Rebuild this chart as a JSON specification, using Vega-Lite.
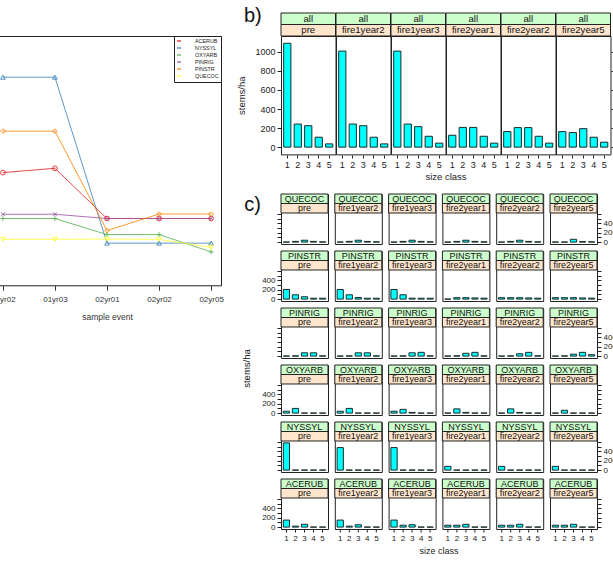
{
  "$schema": "https://vega.github.io/schema/vega-lite/v6.json",
  "background": "white",
  "padding": {"left": -10, "top": 5, "right": 5, "bottom": 5},
  "columns": 2,
  "spacing": 12,
  "resolve": {"scale": {"color": "independent"}, "legend": {"color": "independent"}},
  "config": {
    "font": "Liberation Sans",
    "view": {"stroke": "#222", "strokeWidth": 1},
    "axis": {"domain": false, "grid": false, "tickColor": "#222", "labelColor": "#222", "titleColor": "#222", "titleFontWeight": "normal", "labelFont": "Liberation Sans", "titleFont": "Liberation Sans"},
    "header": {"titleFont": "Liberation Sans", "titleFontWeight": "normal", "titleColor": "#222"},
    "title": {"fontWeight": "normal", "font": "Liberation Sans", "color": "#111"},
    "text": {"font": "Liberation Sans", "color": "#111", "baseline": "middle"}
  },
  "datasets": {
    "trend": [
      {"sp": "ACERUB", "event": "01yr02", "v": 449}, {"sp": "ACERUB", "event": "01yr03", "v": 466}, {"sp": "ACERUB", "event": "02yr01", "v": 266}, {"sp": "ACERUB", "event": "02yr02", "v": 266}, {"sp": "ACERUB", "event": "02yr05", "v": 266},
      {"sp": "NYSSYL", "event": "01yr02", "v": 829}, {"sp": "NYSSYL", "event": "01yr03", "v": 829}, {"sp": "NYSSYL", "event": "02yr01", "v": 168}, {"sp": "NYSSYL", "event": "02yr02", "v": 168}, {"sp": "NYSSYL", "event": "02yr05", "v": 168},
      {"sp": "OXYARB", "event": "01yr02", "v": 266}, {"sp": "OXYARB", "event": "01yr03", "v": 266}, {"sp": "OXYARB", "event": "02yr01", "v": 202}, {"sp": "OXYARB", "event": "02yr02", "v": 202}, {"sp": "OXYARB", "event": "02yr05", "v": 133},
      {"sp": "PINRIG", "event": "01yr02", "v": 283}, {"sp": "PINRIG", "event": "01yr03", "v": 283}, {"sp": "PINRIG", "event": "02yr01", "v": 266}, {"sp": "PINRIG", "event": "02yr02", "v": 266}, {"sp": "PINRIG", "event": "02yr05", "v": 266},
      {"sp": "PINSTR", "event": "01yr02", "v": 614}, {"sp": "PINSTR", "event": "01yr03", "v": 614}, {"sp": "PINSTR", "event": "02yr01", "v": 218}, {"sp": "PINSTR", "event": "02yr02", "v": 284}, {"sp": "PINSTR", "event": "02yr05", "v": 284},
      {"sp": "QUECOC", "event": "01yr02", "v": 183}, {"sp": "QUECOC", "event": "01yr03", "v": 183}, {"sp": "QUECOC", "event": "02yr01", "v": 184}, {"sp": "QUECOC", "event": "02yr02", "v": 183}, {"sp": "QUECOC", "event": "02yr05", "v": 151}
    ],
    "stems": [
      {"sp": "all", "ev": "pre", "size": 1, "v": 1090}, {"sp": "all", "ev": "pre", "size": 2, "v": 242}, {"sp": "all", "ev": "pre", "size": 3, "v": 225}, {"sp": "all", "ev": "pre", "size": 4, "v": 104}, {"sp": "all", "ev": "pre", "size": 5, "v": 34},
      {"sp": "all", "ev": "fire1year2", "size": 1, "v": 1008}, {"sp": "all", "ev": "fire1year2", "size": 2, "v": 242}, {"sp": "all", "ev": "fire1year2", "size": 3, "v": 225}, {"sp": "all", "ev": "fire1year2", "size": 4, "v": 104}, {"sp": "all", "ev": "fire1year2", "size": 5, "v": 34},
      {"sp": "all", "ev": "fire1year3", "size": 1, "v": 1008}, {"sp": "all", "ev": "fire1year3", "size": 2, "v": 242}, {"sp": "all", "ev": "fire1year3", "size": 3, "v": 215}, {"sp": "all", "ev": "fire1year3", "size": 4, "v": 114}, {"sp": "all", "ev": "fire1year3", "size": 5, "v": 42},
      {"sp": "all", "ev": "fire2year1", "size": 1, "v": 125}, {"sp": "all", "ev": "fire2year1", "size": 2, "v": 207}, {"sp": "all", "ev": "fire2year1", "size": 3, "v": 207}, {"sp": "all", "ev": "fire2year1", "size": 4, "v": 114}, {"sp": "all", "ev": "fire2year1", "size": 5, "v": 42},
      {"sp": "all", "ev": "fire2year2", "size": 1, "v": 163}, {"sp": "all", "ev": "fire2year2", "size": 2, "v": 205}, {"sp": "all", "ev": "fire2year2", "size": 3, "v": 205}, {"sp": "all", "ev": "fire2year2", "size": 4, "v": 114}, {"sp": "all", "ev": "fire2year2", "size": 5, "v": 42},
      {"sp": "all", "ev": "fire2year5", "size": 1, "v": 163}, {"sp": "all", "ev": "fire2year5", "size": 2, "v": 153}, {"sp": "all", "ev": "fire2year5", "size": 3, "v": 194}, {"sp": "all", "ev": "fire2year5", "size": 4, "v": 104}, {"sp": "all", "ev": "fire2year5", "size": 5, "v": 52},

      {"sp": "QUECOC", "ev": "pre", "size": 1, "v": 0}, {"sp": "QUECOC", "ev": "pre", "size": 2, "v": 15}, {"sp": "QUECOC", "ev": "pre", "size": 3, "v": 40}, {"sp": "QUECOC", "ev": "pre", "size": 4, "v": 15}, {"sp": "QUECOC", "ev": "pre", "size": 5, "v": 5},
      {"sp": "QUECOC", "ev": "fire1year2", "size": 1, "v": 0}, {"sp": "QUECOC", "ev": "fire1year2", "size": 2, "v": 15}, {"sp": "QUECOC", "ev": "fire1year2", "size": 3, "v": 40}, {"sp": "QUECOC", "ev": "fire1year2", "size": 4, "v": 15}, {"sp": "QUECOC", "ev": "fire1year2", "size": 5, "v": 5},
      {"sp": "QUECOC", "ev": "fire1year3", "size": 1, "v": 0}, {"sp": "QUECOC", "ev": "fire1year3", "size": 2, "v": 15}, {"sp": "QUECOC", "ev": "fire1year3", "size": 3, "v": 40}, {"sp": "QUECOC", "ev": "fire1year3", "size": 4, "v": 15}, {"sp": "QUECOC", "ev": "fire1year3", "size": 5, "v": 5},
      {"sp": "QUECOC", "ev": "fire2year1", "size": 1, "v": 0}, {"sp": "QUECOC", "ev": "fire2year1", "size": 2, "v": 15}, {"sp": "QUECOC", "ev": "fire2year1", "size": 3, "v": 40}, {"sp": "QUECOC", "ev": "fire2year1", "size": 4, "v": 15}, {"sp": "QUECOC", "ev": "fire2year1", "size": 5, "v": 5},
      {"sp": "QUECOC", "ev": "fire2year2", "size": 1, "v": 0}, {"sp": "QUECOC", "ev": "fire2year2", "size": 2, "v": 15}, {"sp": "QUECOC", "ev": "fire2year2", "size": 3, "v": 40}, {"sp": "QUECOC", "ev": "fire2year2", "size": 4, "v": 15}, {"sp": "QUECOC", "ev": "fire2year2", "size": 5, "v": 5},
      {"sp": "QUECOC", "ev": "fire2year5", "size": 1, "v": 0}, {"sp": "QUECOC", "ev": "fire2year5", "size": 2, "v": 0}, {"sp": "QUECOC", "ev": "fire2year5", "size": 3, "v": 60}, {"sp": "QUECOC", "ev": "fire2year5", "size": 4, "v": 10}, {"sp": "QUECOC", "ev": "fire2year5", "size": 5, "v": 5},

      {"sp": "PINSTR", "ev": "pre", "size": 1, "v": 205}, {"sp": "PINSTR", "ev": "pre", "size": 2, "v": 92}, {"sp": "PINSTR", "ev": "pre", "size": 3, "v": 50}, {"sp": "PINSTR", "ev": "pre", "size": 4, "v": 18}, {"sp": "PINSTR", "ev": "pre", "size": 5, "v": 18},
      {"sp": "PINSTR", "ev": "fire1year2", "size": 1, "v": 205}, {"sp": "PINSTR", "ev": "fire1year2", "size": 2, "v": 92}, {"sp": "PINSTR", "ev": "fire1year2", "size": 3, "v": 35}, {"sp": "PINSTR", "ev": "fire1year2", "size": 4, "v": 18}, {"sp": "PINSTR", "ev": "fire1year2", "size": 5, "v": 18},
      {"sp": "PINSTR", "ev": "fire1year3", "size": 1, "v": 205}, {"sp": "PINSTR", "ev": "fire1year3", "size": 2, "v": 92}, {"sp": "PINSTR", "ev": "fire1year3", "size": 3, "v": 20}, {"sp": "PINSTR", "ev": "fire1year3", "size": 4, "v": 18}, {"sp": "PINSTR", "ev": "fire1year3", "size": 5, "v": 18},
      {"sp": "PINSTR", "ev": "fire2year1", "size": 1, "v": 0}, {"sp": "PINSTR", "ev": "fire2year1", "size": 2, "v": 30}, {"sp": "PINSTR", "ev": "fire2year1", "size": 3, "v": 30}, {"sp": "PINSTR", "ev": "fire2year1", "size": 4, "v": 25}, {"sp": "PINSTR", "ev": "fire2year1", "size": 5, "v": 20},
      {"sp": "PINSTR", "ev": "fire2year2", "size": 1, "v": 30}, {"sp": "PINSTR", "ev": "fire2year2", "size": 2, "v": 30}, {"sp": "PINSTR", "ev": "fire2year2", "size": 3, "v": 30}, {"sp": "PINSTR", "ev": "fire2year2", "size": 4, "v": 25}, {"sp": "PINSTR", "ev": "fire2year2", "size": 5, "v": 20},
      {"sp": "PINSTR", "ev": "fire2year5", "size": 1, "v": 30}, {"sp": "PINSTR", "ev": "fire2year5", "size": 2, "v": 30}, {"sp": "PINSTR", "ev": "fire2year5", "size": 3, "v": 30}, {"sp": "PINSTR", "ev": "fire2year5", "size": 4, "v": 25}, {"sp": "PINSTR", "ev": "fire2year5", "size": 5, "v": 20},

      {"sp": "PINRIG", "ev": "pre", "size": 1, "v": 0}, {"sp": "PINRIG", "ev": "pre", "size": 2, "v": 5}, {"sp": "PINRIG", "ev": "pre", "size": 3, "v": 70}, {"sp": "PINRIG", "ev": "pre", "size": 4, "v": 70}, {"sp": "PINRIG", "ev": "pre", "size": 5, "v": 5},
      {"sp": "PINRIG", "ev": "fire1year2", "size": 1, "v": 0}, {"sp": "PINRIG", "ev": "fire1year2", "size": 2, "v": 5}, {"sp": "PINRIG", "ev": "fire1year2", "size": 3, "v": 70}, {"sp": "PINRIG", "ev": "fire1year2", "size": 4, "v": 70}, {"sp": "PINRIG", "ev": "fire1year2", "size": 5, "v": 5},
      {"sp": "PINRIG", "ev": "fire1year3", "size": 1, "v": 0}, {"sp": "PINRIG", "ev": "fire1year3", "size": 2, "v": 5}, {"sp": "PINRIG", "ev": "fire1year3", "size": 3, "v": 70}, {"sp": "PINRIG", "ev": "fire1year3", "size": 4, "v": 80}, {"sp": "PINRIG", "ev": "fire1year3", "size": 5, "v": 5},
      {"sp": "PINRIG", "ev": "fire2year1", "size": 1, "v": 0}, {"sp": "PINRIG", "ev": "fire2year1", "size": 2, "v": 5}, {"sp": "PINRIG", "ev": "fire2year1", "size": 3, "v": 60}, {"sp": "PINRIG", "ev": "fire2year1", "size": 4, "v": 80}, {"sp": "PINRIG", "ev": "fire2year1", "size": 5, "v": 5},
      {"sp": "PINRIG", "ev": "fire2year2", "size": 1, "v": 0}, {"sp": "PINRIG", "ev": "fire2year2", "size": 2, "v": 5}, {"sp": "PINRIG", "ev": "fire2year2", "size": 3, "v": 50}, {"sp": "PINRIG", "ev": "fire2year2", "size": 4, "v": 80}, {"sp": "PINRIG", "ev": "fire2year2", "size": 5, "v": 5},
      {"sp": "PINRIG", "ev": "fire2year5", "size": 1, "v": 0}, {"sp": "PINRIG", "ev": "fire2year5", "size": 2, "v": 5}, {"sp": "PINRIG", "ev": "fire2year5", "size": 3, "v": 40}, {"sp": "PINRIG", "ev": "fire2year5", "size": 4, "v": 80}, {"sp": "PINRIG", "ev": "fire2year5", "size": 5, "v": 30},

      {"sp": "OXYARB", "ev": "pre", "size": 1, "v": 40}, {"sp": "OXYARB", "ev": "pre", "size": 2, "v": 100}, {"sp": "OXYARB", "ev": "pre", "size": 3, "v": 0}, {"sp": "OXYARB", "ev": "pre", "size": 4, "v": 0}, {"sp": "OXYARB", "ev": "pre", "size": 5, "v": 0},
      {"sp": "OXYARB", "ev": "fire1year2", "size": 1, "v": 40}, {"sp": "OXYARB", "ev": "fire1year2", "size": 2, "v": 100}, {"sp": "OXYARB", "ev": "fire1year2", "size": 3, "v": 0}, {"sp": "OXYARB", "ev": "fire1year2", "size": 4, "v": 0}, {"sp": "OXYARB", "ev": "fire1year2", "size": 5, "v": 0},
      {"sp": "OXYARB", "ev": "fire1year3", "size": 1, "v": 40}, {"sp": "OXYARB", "ev": "fire1year3", "size": 2, "v": 80}, {"sp": "OXYARB", "ev": "fire1year3", "size": 3, "v": 15}, {"sp": "OXYARB", "ev": "fire1year3", "size": 4, "v": 0}, {"sp": "OXYARB", "ev": "fire1year3", "size": 5, "v": 0},
      {"sp": "OXYARB", "ev": "fire2year1", "size": 1, "v": 0}, {"sp": "OXYARB", "ev": "fire2year1", "size": 2, "v": 90}, {"sp": "OXYARB", "ev": "fire2year1", "size": 3, "v": 15}, {"sp": "OXYARB", "ev": "fire2year1", "size": 4, "v": 0}, {"sp": "OXYARB", "ev": "fire2year1", "size": 5, "v": 0},
      {"sp": "OXYARB", "ev": "fire2year2", "size": 1, "v": 0}, {"sp": "OXYARB", "ev": "fire2year2", "size": 2, "v": 90}, {"sp": "OXYARB", "ev": "fire2year2", "size": 3, "v": 15}, {"sp": "OXYARB", "ev": "fire2year2", "size": 4, "v": 0}, {"sp": "OXYARB", "ev": "fire2year2", "size": 5, "v": 0},
      {"sp": "OXYARB", "ev": "fire2year5", "size": 1, "v": 0}, {"sp": "OXYARB", "ev": "fire2year5", "size": 2, "v": 60}, {"sp": "OXYARB", "ev": "fire2year5", "size": 3, "v": 0}, {"sp": "OXYARB", "ev": "fire2year5", "size": 4, "v": 0}, {"sp": "OXYARB", "ev": "fire2year5", "size": 5, "v": 0},

      {"sp": "NYSSYL", "ev": "pre", "size": 1, "v": 580}, {"sp": "NYSSYL", "ev": "pre", "size": 2, "v": 0}, {"sp": "NYSSYL", "ev": "pre", "size": 3, "v": 0}, {"sp": "NYSSYL", "ev": "pre", "size": 4, "v": 0}, {"sp": "NYSSYL", "ev": "pre", "size": 5, "v": 0},
      {"sp": "NYSSYL", "ev": "fire1year2", "size": 1, "v": 480}, {"sp": "NYSSYL", "ev": "fire1year2", "size": 2, "v": 0}, {"sp": "NYSSYL", "ev": "fire1year2", "size": 3, "v": 0}, {"sp": "NYSSYL", "ev": "fire1year2", "size": 4, "v": 0}, {"sp": "NYSSYL", "ev": "fire1year2", "size": 5, "v": 0},
      {"sp": "NYSSYL", "ev": "fire1year3", "size": 1, "v": 480}, {"sp": "NYSSYL", "ev": "fire1year3", "size": 2, "v": 0}, {"sp": "NYSSYL", "ev": "fire1year3", "size": 3, "v": 0}, {"sp": "NYSSYL", "ev": "fire1year3", "size": 4, "v": 0}, {"sp": "NYSSYL", "ev": "fire1year3", "size": 5, "v": 0},
      {"sp": "NYSSYL", "ev": "fire2year1", "size": 1, "v": 80}, {"sp": "NYSSYL", "ev": "fire2year1", "size": 2, "v": 0}, {"sp": "NYSSYL", "ev": "fire2year1", "size": 3, "v": 0}, {"sp": "NYSSYL", "ev": "fire2year1", "size": 4, "v": 0}, {"sp": "NYSSYL", "ev": "fire2year1", "size": 5, "v": 0},
      {"sp": "NYSSYL", "ev": "fire2year2", "size": 1, "v": 80}, {"sp": "NYSSYL", "ev": "fire2year2", "size": 2, "v": 0}, {"sp": "NYSSYL", "ev": "fire2year2", "size": 3, "v": 0}, {"sp": "NYSSYL", "ev": "fire2year2", "size": 4, "v": 0}, {"sp": "NYSSYL", "ev": "fire2year2", "size": 5, "v": 0},
      {"sp": "NYSSYL", "ev": "fire2year5", "size": 1, "v": 80}, {"sp": "NYSSYL", "ev": "fire2year5", "size": 2, "v": 0}, {"sp": "NYSSYL", "ev": "fire2year5", "size": 3, "v": 0}, {"sp": "NYSSYL", "ev": "fire2year5", "size": 4, "v": 0}, {"sp": "NYSSYL", "ev": "fire2year5", "size": 5, "v": 0},

      {"sp": "ACERUB", "ev": "pre", "size": 1, "v": 150}, {"sp": "ACERUB", "ev": "pre", "size": 2, "v": 20}, {"sp": "ACERUB", "ev": "pre", "size": 3, "v": 60}, {"sp": "ACERUB", "ev": "pre", "size": 4, "v": 0}, {"sp": "ACERUB", "ev": "pre", "size": 5, "v": 0},
      {"sp": "ACERUB", "ev": "fire1year2", "size": 1, "v": 150}, {"sp": "ACERUB", "ev": "fire1year2", "size": 2, "v": 20}, {"sp": "ACERUB", "ev": "fire1year2", "size": 3, "v": 50}, {"sp": "ACERUB", "ev": "fire1year2", "size": 4, "v": 0}, {"sp": "ACERUB", "ev": "fire1year2", "size": 5, "v": 0},
      {"sp": "ACERUB", "ev": "fire1year3", "size": 1, "v": 150}, {"sp": "ACERUB", "ev": "fire1year3", "size": 2, "v": 40}, {"sp": "ACERUB", "ev": "fire1year3", "size": 3, "v": 50}, {"sp": "ACERUB", "ev": "fire1year3", "size": 4, "v": 0}, {"sp": "ACERUB", "ev": "fire1year3", "size": 5, "v": 0},
      {"sp": "ACERUB", "ev": "fire2year1", "size": 1, "v": 40}, {"sp": "ACERUB", "ev": "fire2year1", "size": 2, "v": 40}, {"sp": "ACERUB", "ev": "fire2year1", "size": 3, "v": 60}, {"sp": "ACERUB", "ev": "fire2year1", "size": 4, "v": 0}, {"sp": "ACERUB", "ev": "fire2year1", "size": 5, "v": 0},
      {"sp": "ACERUB", "ev": "fire2year2", "size": 1, "v": 40}, {"sp": "ACERUB", "ev": "fire2year2", "size": 2, "v": 40}, {"sp": "ACERUB", "ev": "fire2year2", "size": 3, "v": 60}, {"sp": "ACERUB", "ev": "fire2year2", "size": 4, "v": 0}, {"sp": "ACERUB", "ev": "fire2year2", "size": 5, "v": 0},
      {"sp": "ACERUB", "ev": "fire2year5", "size": 1, "v": 40}, {"sp": "ACERUB", "ev": "fire2year5", "size": 2, "v": 40}, {"sp": "ACERUB", "ev": "fire2year5", "size": 3, "v": 60}, {"sp": "ACERUB", "ev": "fire2year5", "size": 4, "v": 0}, {"sp": "ACERUB", "ev": "fire2year5", "size": 5, "v": 0}
    ]
  },
  "concat": [
    {
      "data": {"name": "trend"},
      "width": 228,
      "height": 249.3,
      "encoding": {
        "x": {"field": "event", "type": "ordinal", "sort": ["01yr02", "01yr03", "02yr01", "02yr02", "02yr05"], "scale": {"type": "point", "padding": 0.19},
              "axis": {"title": "sample event", "labelAngle": 0, "labelFontSize": 8, "titleFontSize": 8.5, "tickSize": 5, "labelPadding": 5, "titlePadding": 9, "labelColor": "#333", "titleColor": "#333", "tickColor": "#333"}},
        "y": {"field": "v", "type": "quantitative", "scale": {"domain": [0, 993], "nice": false}, "axis": null},
        "color": {"field": "sp", "type": "nominal",
                  "scale": {"domain": ["ACERUB", "NYSSYL", "OXYARB", "PINRIG", "PINSTR", "QUECOC"], "range": ["#E41A1C", "#377EB8", "#4DAF4A", "#984EA3", "#FF7F00", "#FFFF33"]},
                  "legend": {"title": null, "orient": "top-right", "offset": 0, "padding": 2, "strokeColor": "#222", "fillColor": "white", "cornerRadius": 0,
                             "labelFont": "Liberation Sans", "labelFontSize": 5.4, "labelColor": "#222", "symbolSize": 16, "rowPadding": 0, "labelOffset": 13,
                             "encode": {"symbols": {"update": {
                               "shape": {"signal": "datum.value === 'ACERUB' ? 'M-1,0H5M1,0A1,1,0,1,0,3,0A1,1,0,1,0,1,0' : datum.value === 'NYSSYL' ? 'M-1,0H5M2,-1.05L3,0.7L1,0.7Z' : datum.value === 'OXYARB' ? 'M-1,0H5M2,-1.05V1.05' : datum.value === 'PINRIG' ? 'M-1,0H5M1.1,-0.9L2.9,0.9M1.1,0.9L2.9,-0.9' : datum.value === 'PINSTR' ? 'M-1,0H5M2,-1.1L3.1,0L2,1.1L0.9,0Z' : 'M-1,0H5M2,1.05L3,-0.7L1,-0.7Z'"},
                               "size": {"value": 16},
                               "fill": {"value": "transparent"},
                               "strokeWidth": {"value": 1}
                             }}}}}
      },
      "layer": [
        {"mark": {"type": "line", "strokeWidth": 1, "opacity": 0.8}},
        {"mark": {"type": "point", "filled": false, "size": 22, "strokeWidth": 1, "opacity": 0.85},
         "encoding": {"shape": {"condition": [
                                  {"test": "datum.sp === 'ACERUB'", "value": "circle"},
                                  {"test": "datum.sp === 'NYSSYL'", "value": "triangle-up"},
                                  {"test": "datum.sp === 'OXYARB'", "value": "M-1,0H1M0,-1V1"},
                                  {"test": "datum.sp === 'PINRIG'", "value": "M-0.8,-0.8L0.8,0.8M-0.8,0.8L0.8,-0.8"},
                                  {"test": "datum.sp === 'PINSTR'", "value": "diamond"}],
                                "value": "triangle-down"}}}
      ]
    },
    {
      "data": {"name": "stems"},
      "columns": 1,
      "spacing": 12,
      "concat": [
        {
          "title": {"text": "b)", "anchor": "start", "fontSize": 20, "offset": -14, "dx": 7},
          "transform": [{"filter": "datum.sp === 'all'"}],
          "facet": {"column": {"field": "ev", "type": "nominal", "sort": ["pre", "fire1year2", "fire1year3", "fire2year1", "fire2year2", "fire2year5"], "title": "size class",
                               "header": {"labels": false, "orient": "bottom", "titleFontSize": 9.5, "titlePadding": -7.5}}},
          "spacing": 0,
          "bounds": "flush",
          "spec": {
            "width": 54.5,
            "height": 118.4,
            "layer": [
              {"mark": {"type": "bar", "fill": "#00FFFF", "stroke": "#1a2a2a", "strokeWidth": 1},
               "encoding": {
                 "x": {"field": "size", "type": "ordinal", "scale": {"paddingInner": 0.31, "paddingOuter": 0.255}, "axis": {"title": null, "labelAngle": 0, "labelFontSize": 9, "tickSize": 3, "labelPadding": 2}},
                 "y": {"field": "v", "type": "quantitative", "stack": null, "scale": {"domain": [-76.3, 1166.3], "nice": false},
                       "axis": {"title": "stems/ha", "format": "d", "values": [0, 200, 400, 600, 800, 1000], "labelFontSize": 9, "titleFontSize": 9.5, "tickSize": 4, "labelPadding": 2, "titlePadding": 8,
                                "encode": {"ticks": {"update": {"opacity": {"signal": "item.mark.group.mark.group.datum.ev === 'pre' ? 1 : 0"}}},
                                           "labels": {"update": {"opacity": {"signal": "item.mark.group.mark.group.datum.ev === 'pre' ? 1 : 0"}}},
                                           "title": {"update": {"opacity": {"signal": "item.mark.group.mark.group.datum.ev === 'pre' ? 1 : 0"}}}}}}
               }},
              {"transform": [{"aggregate": [{"op": "count", "as": "n"}], "groupby": ["sp", "ev"]}],
               "mark": {"type": "rect", "fill": "#ffe5cc", "stroke": "#222", "strokeWidth": 1},
               "encoding": {"y": {"datum": 1166.3, "axis": {"orient": "right", "labels": false, "title": null, "values": [0, 200, 400, 600, 800, 1000], "tickSize": 4,
                                                            "encode": {"ticks": {"update": {"opacity": {"signal": "item.mark.group.mark.group.datum.ev === 'fire2year5' ? 1 : 0"}}}}}},
                            "y2": {"datum": 1287}}},
              {"transform": [{"aggregate": [{"op": "count", "as": "n"}], "groupby": ["sp", "ev"]}],
               "mark": {"type": "rect", "fill": "#ccffcc", "stroke": "#222", "strokeWidth": 1},
               "encoding": {"y": {"datum": 1287, "axis": null}, "y2": {"datum": 1407.7}}},
              {"transform": [{"aggregate": [{"op": "count", "as": "n"}], "groupby": ["sp", "ev"]}],
               "mark": {"type": "text", "fontSize": 9.6},
               "encoding": {"y": {"datum": 1226.6, "axis": null}, "text": {"field": "ev"}}},
              {"transform": [{"aggregate": [{"op": "count", "as": "n"}], "groupby": ["sp", "ev"]}],
               "mark": {"type": "text", "fontSize": 9.6},
               "encoding": {"y": {"datum": 1347.3, "axis": null}, "text": {"field": "sp"}}}
            ],
            "resolve": {"axis": {"y": "independent"}}
          }
        },
        {
          "title": {"text": "c)", "anchor": "start", "fontSize": 20, "offset": -22, "dx": 2},
          "vconcat": [
            {
              "title": {"text": "stems/ha", "orient": "left", "anchor": "middle", "fontSize": 9.5, "offset": 10, "dx": 6},
              "spacing": 3,
              "vconcat": [
                {
                  "transform": [{"filter": "datum.sp === 'QUECOC'"}],
                  "facet": {"column": {"field": "ev", "type": "nominal", "sort": ["pre", "fire1year2", "fire1year3", "fire2year1", "fire2year2", "fire2year5"], "title": null, "header": {"labels": false}}},
                  "spacing": 6.8,
                  "bounds": "flush",
                  "spec": {
                    "width": 47, "height": 50,
                    "layer": [
                      {"mark": {"type": "bar", "fill": "#00FFFF", "stroke": "#1a2a2a", "strokeWidth": 1},
                       "encoding": {
                         "x": {"field": "size", "type": "ordinal", "scale": {"paddingInner": 0.31, "paddingOuter": 0.255}, "axis": null},
                         "y": {"field": "v", "type": "quantitative", "stack": null, "scale": {"domain": [-40.6, 1025.8], "nice": false},
                               "axis": {"title": null, "values": [0, 100, 200, 300, 400, 500, 600], "labels": false, "tickSize": 4,
                                        "encode": {"ticks": {"update": {"opacity": {"signal": "item.mark.group.mark.group.datum.ev === 'pre' ? 1 : 0"}}}}}}
                       }},
                      {"transform": [{"aggregate": [{"op": "count", "as": "n"}], "groupby": ["sp", "ev"]}],
                       "mark": {"type": "rect", "fill": "#ffe5cc", "stroke": "#222", "strokeWidth": 1},
                       "encoding": {"y": {"datum": 620.6, "axis": {"orient": "right", "title": null, "values": [0, 100, 200, 300, 400, 500, 600], "labelExpr": "datum.value % 200 === 0 && datum.value < 600 ? datum.label : ''", "labelFontSize": 8, "tickSize": 4, "labelPadding": 2,
                                                                   "encode": {"ticks": {"update": {"opacity": {"signal": "item.mark.group.mark.group.datum.ev === 'fire2year5' ? 1 : 0"}}},
                                                                              "labels": {"update": {"opacity": {"signal": "item.mark.group.mark.group.datum.ev === 'fire2year5' ? 1 : 0"}}}}}},
                                    "y2": {"datum": 823.2}}},
                      {"transform": [{"aggregate": [{"op": "count", "as": "n"}], "groupby": ["sp", "ev"]}],
                       "mark": {"type": "rect", "fill": "#ccffcc", "stroke": "#222", "strokeWidth": 1},
                       "encoding": {"y": {"datum": 823.2, "axis": null}, "y2": {"datum": 1025.8}}},
                      {"transform": [{"aggregate": [{"op": "count", "as": "n"}], "groupby": ["sp", "ev"]}],
                       "mark": {"type": "text", "fontSize": 9},
                       "encoding": {"y": {"datum": 721.9, "axis": null}, "text": {"field": "ev"}}},
                      {"transform": [{"aggregate": [{"op": "count", "as": "n"}], "groupby": ["sp", "ev"]}],
                       "mark": {"type": "text", "fontSize": 9},
                       "encoding": {"y": {"datum": 924.5, "axis": null}, "text": {"field": "sp"}}}
                    ],
                    "resolve": {"axis": {"y": "independent"}}
                  }
                },
                {
                  "transform": [{"filter": "datum.sp === 'PINSTR'"}],
                  "facet": {"column": {"field": "ev", "type": "nominal", "sort": ["pre", "fire1year2", "fire1year3", "fire2year1", "fire2year2", "fire2year5"], "title": null, "header": {"labels": false}}},
                  "spacing": 6.8,
                  "bounds": "flush",
                  "spec": {
                    "width": 47, "height": 50,
                    "layer": [
                      {"mark": {"type": "bar", "fill": "#00FFFF", "stroke": "#1a2a2a", "strokeWidth": 1},
                       "encoding": {
                         "x": {"field": "size", "type": "ordinal", "scale": {"paddingInner": 0.31, "paddingOuter": 0.255}, "axis": null},
                         "y": {"field": "v", "type": "quantitative", "stack": null, "scale": {"domain": [-40.6, 1025.8], "nice": false},
                               "axis": {"title": null, "values": [0, 100, 200, 300, 400, 500, 600], "labelExpr": "datum.value % 200 === 0 && datum.value < 600 ? datum.label : ''", "labelFontSize": 8, "tickSize": 4, "labelPadding": 2,
                                        "encode": {"ticks": {"update": {"opacity": {"signal": "item.mark.group.mark.group.datum.ev === 'pre' ? 1 : 0"}}},
                                                   "labels": {"update": {"opacity": {"signal": "item.mark.group.mark.group.datum.ev === 'pre' ? 1 : 0"}}}}}}
                       }},
                      {"transform": [{"aggregate": [{"op": "count", "as": "n"}], "groupby": ["sp", "ev"]}],
                       "mark": {"type": "rect", "fill": "#ffe5cc", "stroke": "#222", "strokeWidth": 1},
                       "encoding": {"y": {"datum": 620.6, "axis": {"orient": "right", "title": null, "values": [0, 100, 200, 300, 400, 500, 600], "labels": false, "tickSize": 4,
                                                                   "encode": {"ticks": {"update": {"opacity": {"signal": "item.mark.group.mark.group.datum.ev === 'fire2year5' ? 1 : 0"}}}}}},
                                    "y2": {"datum": 823.2}}},
                      {"transform": [{"aggregate": [{"op": "count", "as": "n"}], "groupby": ["sp", "ev"]}],
                       "mark": {"type": "rect", "fill": "#ccffcc", "stroke": "#222", "strokeWidth": 1},
                       "encoding": {"y": {"datum": 823.2, "axis": null}, "y2": {"datum": 1025.8}}},
                      {"transform": [{"aggregate": [{"op": "count", "as": "n"}], "groupby": ["sp", "ev"]}],
                       "mark": {"type": "text", "fontSize": 9},
                       "encoding": {"y": {"datum": 721.9, "axis": null}, "text": {"field": "ev"}}},
                      {"transform": [{"aggregate": [{"op": "count", "as": "n"}], "groupby": ["sp", "ev"]}],
                       "mark": {"type": "text", "fontSize": 9},
                       "encoding": {"y": {"datum": 924.5, "axis": null}, "text": {"field": "sp"}}}
                    ],
                    "resolve": {"axis": {"y": "independent"}}
                  }
                },
                {
                  "transform": [{"filter": "datum.sp === 'PINRIG'"}],
                  "facet": {"column": {"field": "ev", "type": "nominal", "sort": ["pre", "fire1year2", "fire1year3", "fire2year1", "fire2year2", "fire2year5"], "title": null, "header": {"labels": false}}},
                  "spacing": 6.8,
                  "bounds": "flush",
                  "spec": {
                    "width": 47, "height": 50,
                    "layer": [
                      {"mark": {"type": "bar", "fill": "#00FFFF", "stroke": "#1a2a2a", "strokeWidth": 1},
                       "encoding": {
                         "x": {"field": "size", "type": "ordinal", "scale": {"paddingInner": 0.31, "paddingOuter": 0.255}, "axis": null},
                         "y": {"field": "v", "type": "quantitative", "stack": null, "scale": {"domain": [-40.6, 1025.8], "nice": false},
                               "axis": {"title": null, "values": [0, 100, 200, 300, 400, 500, 600], "labels": false, "tickSize": 4,
                                        "encode": {"ticks": {"update": {"opacity": {"signal": "item.mark.group.mark.group.datum.ev === 'pre' ? 1 : 0"}}}}}}
                       }},
                      {"transform": [{"aggregate": [{"op": "count", "as": "n"}], "groupby": ["sp", "ev"]}],
                       "mark": {"type": "rect", "fill": "#ffe5cc", "stroke": "#222", "strokeWidth": 1},
                       "encoding": {"y": {"datum": 620.6, "axis": {"orient": "right", "title": null, "values": [0, 100, 200, 300, 400, 500, 600], "labelExpr": "datum.value % 200 === 0 && datum.value < 600 ? datum.label : ''", "labelFontSize": 8, "tickSize": 4, "labelPadding": 2,
                                                                   "encode": {"ticks": {"update": {"opacity": {"signal": "item.mark.group.mark.group.datum.ev === 'fire2year5' ? 1 : 0"}}},
                                                                              "labels": {"update": {"opacity": {"signal": "item.mark.group.mark.group.datum.ev === 'fire2year5' ? 1 : 0"}}}}}},
                                    "y2": {"datum": 823.2}}},
                      {"transform": [{"aggregate": [{"op": "count", "as": "n"}], "groupby": ["sp", "ev"]}],
                       "mark": {"type": "rect", "fill": "#ccffcc", "stroke": "#222", "strokeWidth": 1},
                       "encoding": {"y": {"datum": 823.2, "axis": null}, "y2": {"datum": 1025.8}}},
                      {"transform": [{"aggregate": [{"op": "count", "as": "n"}], "groupby": ["sp", "ev"]}],
                       "mark": {"type": "text", "fontSize": 9},
                       "encoding": {"y": {"datum": 721.9, "axis": null}, "text": {"field": "ev"}}},
                      {"transform": [{"aggregate": [{"op": "count", "as": "n"}], "groupby": ["sp", "ev"]}],
                       "mark": {"type": "text", "fontSize": 9},
                       "encoding": {"y": {"datum": 924.5, "axis": null}, "text": {"field": "sp"}}}
                    ],
                    "resolve": {"axis": {"y": "independent"}}
                  }
                },
                {
                  "transform": [{"filter": "datum.sp === 'OXYARB'"}],
                  "facet": {"column": {"field": "ev", "type": "nominal", "sort": ["pre", "fire1year2", "fire1year3", "fire2year1", "fire2year2", "fire2year5"], "title": null, "header": {"labels": false}}},
                  "spacing": 6.8,
                  "bounds": "flush",
                  "spec": {
                    "width": 47, "height": 50,
                    "layer": [
                      {"mark": {"type": "bar", "fill": "#00FFFF", "stroke": "#1a2a2a", "strokeWidth": 1},
                       "encoding": {
                         "x": {"field": "size", "type": "ordinal", "scale": {"paddingInner": 0.31, "paddingOuter": 0.255}, "axis": null},
                         "y": {"field": "v", "type": "quantitative", "stack": null, "scale": {"domain": [-40.6, 1025.8], "nice": false},
                               "axis": {"title": null, "values": [0, 100, 200, 300, 400, 500, 600], "labelExpr": "datum.value % 200 === 0 && datum.value < 600 ? datum.label : ''", "labelFontSize": 8, "tickSize": 4, "labelPadding": 2,
                                        "encode": {"ticks": {"update": {"opacity": {"signal": "item.mark.group.mark.group.datum.ev === 'pre' ? 1 : 0"}}},
                                                   "labels": {"update": {"opacity": {"signal": "item.mark.group.mark.group.datum.ev === 'pre' ? 1 : 0"}}}}}}
                       }},
                      {"transform": [{"aggregate": [{"op": "count", "as": "n"}], "groupby": ["sp", "ev"]}],
                       "mark": {"type": "rect", "fill": "#ffe5cc", "stroke": "#222", "strokeWidth": 1},
                       "encoding": {"y": {"datum": 620.6, "axis": {"orient": "right", "title": null, "values": [0, 100, 200, 300, 400, 500, 600], "labels": false, "tickSize": 4,
                                                                   "encode": {"ticks": {"update": {"opacity": {"signal": "item.mark.group.mark.group.datum.ev === 'fire2year5' ? 1 : 0"}}}}}},
                                    "y2": {"datum": 823.2}}},
                      {"transform": [{"aggregate": [{"op": "count", "as": "n"}], "groupby": ["sp", "ev"]}],
                       "mark": {"type": "rect", "fill": "#ccffcc", "stroke": "#222", "strokeWidth": 1},
                       "encoding": {"y": {"datum": 823.2, "axis": null}, "y2": {"datum": 1025.8}}},
                      {"transform": [{"aggregate": [{"op": "count", "as": "n"}], "groupby": ["sp", "ev"]}],
                       "mark": {"type": "text", "fontSize": 9},
                       "encoding": {"y": {"datum": 721.9, "axis": null}, "text": {"field": "ev"}}},
                      {"transform": [{"aggregate": [{"op": "count", "as": "n"}], "groupby": ["sp", "ev"]}],
                       "mark": {"type": "text", "fontSize": 9},
                       "encoding": {"y": {"datum": 924.5, "axis": null}, "text": {"field": "sp"}}}
                    ],
                    "resolve": {"axis": {"y": "independent"}}
                  }
                },
                {
                  "transform": [{"filter": "datum.sp === 'NYSSYL'"}],
                  "facet": {"column": {"field": "ev", "type": "nominal", "sort": ["pre", "fire1year2", "fire1year3", "fire2year1", "fire2year2", "fire2year5"], "title": null, "header": {"labels": false}}},
                  "spacing": 6.8,
                  "bounds": "flush",
                  "spec": {
                    "width": 47, "height": 50,
                    "layer": [
                      {"mark": {"type": "bar", "fill": "#00FFFF", "stroke": "#1a2a2a", "strokeWidth": 1},
                       "encoding": {
                         "x": {"field": "size", "type": "ordinal", "scale": {"paddingInner": 0.31, "paddingOuter": 0.255}, "axis": null},
                         "y": {"field": "v", "type": "quantitative", "stack": null, "scale": {"domain": [-40.6, 1025.8], "nice": false},
                               "axis": {"title": null, "values": [0, 100, 200, 300, 400, 500, 600], "labels": false, "tickSize": 4,
                                        "encode": {"ticks": {"update": {"opacity": {"signal": "item.mark.group.mark.group.datum.ev === 'pre' ? 1 : 0"}}}}}}
                       }},
                      {"transform": [{"aggregate": [{"op": "count", "as": "n"}], "groupby": ["sp", "ev"]}],
                       "mark": {"type": "rect", "fill": "#ffe5cc", "stroke": "#222", "strokeWidth": 1},
                       "encoding": {"y": {"datum": 620.6, "axis": {"orient": "right", "title": null, "values": [0, 100, 200, 300, 400, 500, 600], "labelExpr": "datum.value % 200 === 0 && datum.value < 600 ? datum.label : ''", "labelFontSize": 8, "tickSize": 4, "labelPadding": 2,
                                                                   "encode": {"ticks": {"update": {"opacity": {"signal": "item.mark.group.mark.group.datum.ev === 'fire2year5' ? 1 : 0"}}},
                                                                              "labels": {"update": {"opacity": {"signal": "item.mark.group.mark.group.datum.ev === 'fire2year5' ? 1 : 0"}}}}}},
                                    "y2": {"datum": 823.2}}},
                      {"transform": [{"aggregate": [{"op": "count", "as": "n"}], "groupby": ["sp", "ev"]}],
                       "mark": {"type": "rect", "fill": "#ccffcc", "stroke": "#222", "strokeWidth": 1},
                       "encoding": {"y": {"datum": 823.2, "axis": null}, "y2": {"datum": 1025.8}}},
                      {"transform": [{"aggregate": [{"op": "count", "as": "n"}], "groupby": ["sp", "ev"]}],
                       "mark": {"type": "text", "fontSize": 9},
                       "encoding": {"y": {"datum": 721.9, "axis": null}, "text": {"field": "ev"}}},
                      {"transform": [{"aggregate": [{"op": "count", "as": "n"}], "groupby": ["sp", "ev"]}],
                       "mark": {"type": "text", "fontSize": 9},
                       "encoding": {"y": {"datum": 924.5, "axis": null}, "text": {"field": "sp"}}}
                    ],
                    "resolve": {"axis": {"y": "independent"}}
                  }
                },
                {
                  "transform": [{"filter": "datum.sp === 'ACERUB'"}],
                  "facet": {"column": {"field": "ev", "type": "nominal", "sort": ["pre", "fire1year2", "fire1year3", "fire2year1", "fire2year2", "fire2year5"], "title": "size class",
                                       "header": {"labels": false, "orient": "bottom", "titleFontSize": 9, "titlePadding": -5}}},
                  "spacing": 6.8,
                  "bounds": "flush",
                  "spec": {
                    "width": 47, "height": 50,
                    "layer": [
                      {"mark": {"type": "bar", "fill": "#00FFFF", "stroke": "#1a2a2a", "strokeWidth": 1},
                       "encoding": {
                         "x": {"field": "size", "type": "ordinal", "scale": {"paddingInner": 0.31, "paddingOuter": 0.255}, "axis": {"title": null, "labelAngle": 0, "labelFontSize": 8, "tickSize": 3, "labelPadding": 2}},
                         "y": {"field": "v", "type": "quantitative", "stack": null, "scale": {"domain": [-40.6, 1025.8], "nice": false},
                               "axis": {"title": null, "values": [0, 100, 200, 300, 400, 500, 600], "labelExpr": "datum.value % 200 === 0 && datum.value < 600 ? datum.label : ''", "labelFontSize": 8, "tickSize": 4, "labelPadding": 2,
                                        "encode": {"ticks": {"update": {"opacity": {"signal": "item.mark.group.mark.group.datum.ev === 'pre' ? 1 : 0"}}},
                                                   "labels": {"update": {"opacity": {"signal": "item.mark.group.mark.group.datum.ev === 'pre' ? 1 : 0"}}}}}}
                       }},
                      {"transform": [{"aggregate": [{"op": "count", "as": "n"}], "groupby": ["sp", "ev"]}],
                       "mark": {"type": "rect", "fill": "#ffe5cc", "stroke": "#222", "strokeWidth": 1},
                       "encoding": {"y": {"datum": 620.6, "axis": {"orient": "right", "title": null, "values": [0, 100, 200, 300, 400, 500, 600], "labels": false, "tickSize": 4,
                                                                   "encode": {"ticks": {"update": {"opacity": {"signal": "item.mark.group.mark.group.datum.ev === 'fire2year5' ? 1 : 0"}}}}}},
                                    "y2": {"datum": 823.2}}},
                      {"transform": [{"aggregate": [{"op": "count", "as": "n"}], "groupby": ["sp", "ev"]}],
                       "mark": {"type": "rect", "fill": "#ccffcc", "stroke": "#222", "strokeWidth": 1},
                       "encoding": {"y": {"datum": 823.2, "axis": null}, "y2": {"datum": 1025.8}}},
                      {"transform": [{"aggregate": [{"op": "count", "as": "n"}], "groupby": ["sp", "ev"]}],
                       "mark": {"type": "text", "fontSize": 9},
                       "encoding": {"y": {"datum": 721.9, "axis": null}, "text": {"field": "ev"}}},
                      {"transform": [{"aggregate": [{"op": "count", "as": "n"}], "groupby": ["sp", "ev"]}],
                       "mark": {"type": "text", "fontSize": 9},
                       "encoding": {"y": {"datum": 924.5, "axis": null}, "text": {"field": "sp"}}}
                    ],
                    "resolve": {"axis": {"y": "independent"}}
                  }
                }
              ]
            }
          ]
        }
      ]
    }
  ]
}
